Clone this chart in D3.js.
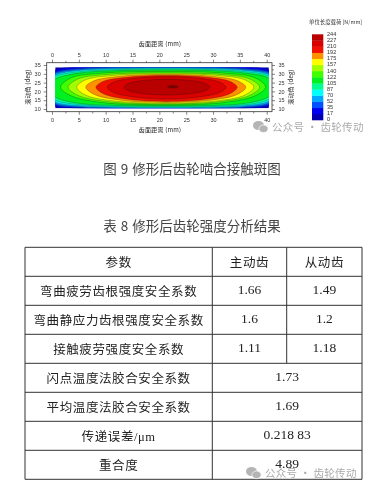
<!DOCTYPE html>
<html>
<head>
<meta charset="utf-8">
<script src="https://cdn.jsdelivr.net/npm/d3@7"></script>
<style>
  html, body { margin: 0; padding: 0; background: #fff; }
  svg { display: block; filter: blur(0.4px); }
</style>
</head>
<body>
<div id="vis"></div>
<script>
// colour bar values and colours, bottom to top
const barLabels = [0, 17, 35, 52, 70, 87, 105, 122, 140, 157, 175, 192, 210, 227, 244];
const barColors = ['#0000b0', '#0000f0', '#0050ff', '#00a8ff', '#00ffff', '#00ff90', '#00f020',
  '#40ff00', '#a0ff00', '#ffff00', '#ff9000', '#f01000', '#d80000', '#b80000'];
const peakColor = '#800000';

const xTicks = [0, 5, 10, 15, 20, 25, 30, 35, 40];
const yTicks = [10, 15, 20, 25, 30, 35];
const xMinor = [2.5, 7.5, 12.5, 17.5, 22.5, 27.5, 32.5, 37.5];
const yMinor = [12.5, 17.5, 22.5, 27.5, 32.5];

// contour outlines: [tooth width mm, roll angle deg]
const contour17 = [[-6, 22.2], [0.6, 32.2], [4, 33.8], [12, 35], [20.7, 35.3], [30, 35], [37, 33.8], [40.4, 32.4], [46.5, 22.2], [40.4, 11.6], [37, 10.3], [30, 9.2], [20.7, 9], [12, 9.2], [4, 10.3], [0.6, 11.4]];
const contour35 = [[-5, 22.2], [0.6, 31], [5, 33], [12, 34], [20.7, 34.3], [30, 34], [36, 33], [40.4, 31.2], [45.5, 22.2], [40.4, 12.6], [36, 10.8], [30, 10], [20.7, 9.8], [12, 10], [5, 10.8], [0.6, 12.3]];
const contour52 = [[-4, 22.2], [0.6, 30.2], [5, 32.4], [12, 33.4], [20.7, 33.6], [30, 33.4], [36, 32.4], [40.4, 30.4], [44.5, 22.2], [40.4, 13.4], [36, 11.3], [30, 10.6], [20.7, 10.5], [12, 10.6], [5, 11.3], [0.6, 13.1]];
const contour70 = [[-3, 22.2], [0.6, 29.3], [5, 31.9], [12, 32.9], [20.7, 33.2], [30, 32.9], [36, 31.9], [40.4, 29.6], [43.5, 22.2], [40.4, 14.4], [36, 11.9], [30, 11], [20.7, 10.7], [12, 11], [5, 11.9], [0.6, 14]];
const contour87 = [[-2, 22.2], [0.6, 28.5], [5, 31.2], [12, 32.4], [20.7, 32.8], [30, 32.4], [36, 31.2], [40.4, 28.8], [42.5, 22.2], [40.4, 15.4], [36, 12.4], [30, 11.4], [20.7, 11.1], [12, 11.4], [5, 12.5], [0.6, 15.1]];
const contour105 = [[-1, 22.2], [0.6, 27], [5, 30.4], [12, 31.8], [20.7, 32.2], [30, 31.8], [36, 30.4], [40.4, 27.5], [41.6, 22.2], [40.4, 17], [36, 13.2], [30, 12], [20.7, 11.7], [12, 12], [5, 13.2], [0.6, 16.8]];
const contour122 = [[1.6, 22.4], [3.5, 27.6], [9, 30.3], [20.7, 31.3], [32.4, 30.3], [37.9, 27.6], [39.8, 22.4], [37.9, 17.6], [32.4, 13.8], [20.7, 12.3], [9, 13.8], [3.5, 17.6]];
const contour140 = [[3, 22.4], [4.8, 27], [10.1, 29.6], [20.9, 30.5], [31.6, 29.6], [36.9, 27], [38.7, 22.4], [36.9, 17.8], [31.6, 14.3], [20.9, 12.8], [10.1, 14.3], [4.8, 17.8]];
const contour157 = [[4.6, 22.4], [6.2, 26.5], [11.2, 29], [21.1, 30], [31, 29], [36, 26.5], [37.6, 22.4], [36, 18], [31, 14.7], [21.1, 13.2], [11.2, 14.7], [6.2, 18]];
const contour175 = [[6.3, 22.4], [7.8, 26], [12.3, 28.5], [21.2, 29.6], [30.1, 28.5], [34.6, 26], [36.1, 22.4], [34.6, 18.4], [30.1, 15.2], [21.2, 13.7], [12.3, 15.2], [7.8, 18.4]];
const contour192 = [[8.2, 22.4], [9.5, 25.6], [13.5, 27.9], [21.4, 29], [29.2, 27.9], [33.2, 25.6], [34.5, 22.4], [33.2, 18.8], [29.2, 15.8], [21.4, 14.3], [13.5, 15.8], [9.5, 18.8]];
const contour210 = [[10.3, 22.4], [11.4, 25.2], [14.7, 27.2], [21.4, 28.4], [28, 27.2], [31.3, 25.2], [32.4, 22.4], [31.3, 19.5], [28, 17.1], [21.4, 15.7], [14.7, 17.1], [11.4, 19.5]];
const contour227 = [[13.4, 22.4], [14.2, 24.4], [16.6, 26], [21.4, 26.9], [26.2, 26], [28.6, 24.4], [29.4, 22.4], [28.6, 20.5], [26.2, 18.9], [21.4, 18], [16.6, 18.9], [14.2, 20.5]];
const contourPeak = [[21.5, 22.6], [22.5, 23.3], [23.5, 22.6], [22.5, 21.9]];

const contours = [contour17, contour35, contour52, contour70, contour87, contour105, contour122,
  contour140, contour157, contour175, contour192, contour210, contour227, contourPeak];
const contourFills = barColors.slice(1).concat([peakColor]);
const dataXExtent = [0.6, 40.4];
const dataYExtent = [10.4, 33.7];

// table text
const tableHead = ['参数', '主动齿', '从动齿'];
const tableRows = [
  ['弯曲疲劳齿根强度安全系数', '1.66', '1.49'],
  ['弯曲静应力齿根强度安全系数', '1.6', '1.2'],
  ['接触疲劳强度安全系数', '1.11', '1.18'],
  ['闪点温度法胶合安全系数', '1.73'],
  ['平均温度法胶合安全系数', '1.69'],
  ['传递误差/μm', '0.218 83'],
  ['重合度', '4.89'],
];

const cjk = '"Noto Sans CJK SC", sans-serif';
const serif = '"Liberation Serif", "Noto Sans CJK SC", serif';

const svg = d3.select('#vis').append('svg')
  .attr('width', 387)
  .attr('height', 501)
  .attr('viewBox', '0 0 387 501');

// contour plot
const frame = {left: 46.7, right: 272, top: 62.7, bottom: 111.7};
const x = d3.scaleLinear().domain([0, 40]).range([52, 266.7]);
const y = d3.scaleLinear().domain([10, 35]).range([109, 65]);

svg.append('clipPath').attr('id', 'plot-clip')
  .append('rect')
  .attr('x', x(dataXExtent[0]))
  .attr('y', y(dataYExtent[1]))
  .attr('width', x(dataXExtent[1]) - x(dataXExtent[0]))
  .attr('height', y(dataYExtent[0]) - y(dataYExtent[1]));

const plot = svg.append('g').attr('clip-path', 'url(#plot-clip)');
plot.append('rect')
  .attr('x', x(dataXExtent[0]))
  .attr('y', y(dataYExtent[1]))
  .attr('width', x(dataXExtent[1]) - x(dataXExtent[0]))
  .attr('height', y(dataYExtent[0]) - y(dataYExtent[1]))
  .attr('fill', barColors[0]);

const outline = d3.line()
  .x(d => x(d[0]))
  .y(d => y(d[1]))
  .curve(d3.curveCatmullRomClosed);

plot.selectAll('path.band')
  .data(contours)
  .enter()
  .append('path')
  .attr('class', 'band')
  .attr('d', outline)
  .attr('fill', (d, i) => contourFills[i])
  .attr('stroke', '#111')
  .attr('stroke-opacity', 0.55)
  .attr('stroke-width', 0.5);

svg.append('rect')
  .attr('x', frame.left)
  .attr('y', frame.top)
  .attr('width', frame.right - frame.left)
  .attr('height', frame.bottom - frame.top)
  .attr('fill', 'none')
  .attr('stroke', '#333')
  .attr('stroke-width', 0.8);

function styleAxis(g) {
  g.select('.domain').remove();
  g.selectAll('line').attr('stroke', '#333').attr('stroke-width', 0.6);
  g.selectAll('text').attr('fill', '#333').style('font', '5.5px "Liberation Sans", sans-serif');
}

function addAxis(axisFn, scale, ticks, minor, transform, padding) {
  svg.append('g').attr('transform', transform)
    .call(axisFn(scale).tickValues(ticks).tickSize(3).tickPadding(padding).tickFormat(d3.format('d')))
    .call(styleAxis);
  svg.append('g').attr('transform', transform)
    .call(axisFn(scale).tickValues(minor).tickSize(1.8).tickFormat(''))
    .call(styleAxis);
}

addAxis(d3.axisTop, x, xTicks, xMinor, `translate(0,${frame.top})`, 2.5);
addAxis(d3.axisBottom, x, xTicks, xMinor, `translate(0,${frame.bottom})`, 3);
addAxis(d3.axisLeft, y, yTicks, yMinor, `translate(${frame.left},0)`, 3);
addAxis(d3.axisRight, y, yTicks, yMinor, `translate(${frame.right},0)`, 3.5);

function smallLabel(text, px, py, rotate) {
  svg.append('text')
    .attr('transform', `translate(${px},${py})` + (rotate ? `rotate(${rotate})` : ''))
    .attr('text-anchor', 'middle')
    .attr('dominant-baseline', 'middle')
    .attr('fill', '#222')
    .attr('letter-spacing', 0.2)
    .style('font', `6px ${cjk}`)
    .text(text);
}
smallLabel('齿面距离 (mm)', 160, 44);
smallLabel('齿面距离 (mm)', 160, 130.5);
smallLabel('滚动角 (deg)', 28, 87, -90);
smallLabel('滚动角 (deg)', 291, 87, -90);

// colour bar
const barY = d3.scaleLinear().domain([0, barColors.length]).range([120, 34.3]);
svg.append('g').selectAll('rect')
  .data(barColors)
  .enter()
  .append('rect')
  .attr('x', 312)
  .attr('y', (d, i) => barY(i + 1))
  .attr('width', 11.3)
  .attr('height', (d, i) => barY(i) - barY(i + 1) + 0.3)
  .attr('fill', d => d);
svg.append('g').selectAll('text')
  .data(barLabels)
  .enter()
  .append('text')
  .attr('x', 327)
  .attr('y', (d, i) => barY(i))
  .attr('dominant-baseline', 'middle')
  .attr('fill', '#333')
  .style('font', '5.6px "Liberation Sans", sans-serif')
  .text(d => d);
svg.append('text')
  .attr('x', 309)
  .attr('y', 23)
  .attr('dominant-baseline', 'middle')
  .attr('fill', '#333')
  .style('font', `5.4px ${cjk}`)
  .text('单位长度载荷 [N/mm]');

// captions
function caption(text, cy) {
  svg.append('text')
    .attr('x', 192)
    .attr('y', cy)
    .attr('text-anchor', 'middle')
    .attr('dominant-baseline', 'middle')
    .attr('fill', '#444')
    .attr('word-spacing', 1)
    .style('font', `13.5px ${cjk}`)
    .text(text);
}
caption('图 9 修形后齿轮啮合接触斑图', 170);
caption('表 8 修形后齿轮强度分析结果', 227.7);

// table
const colEdges = [25, 212.3, 286.7, 362];
const rowY = d3.scaleBand()
  .domain(d3.range(tableRows.length + 1))
  .range([247.3, 479.3]);
const table = svg.append('g');

function cell(text, cx, row) {
  const isNumber = /^[0-9.\s]+$/.test(text);
  table.append('text')
    .attr('x', cx)
    .attr('y', rowY(row) + rowY.bandwidth() / 2 + (isNumber ? 0.5 : 2))
    .attr('text-anchor', 'middle')
    .attr('dominant-baseline', 'middle')
    .attr('fill', '#222')
    .attr('letter-spacing', isNumber ? 0 : 0.6)
    .style('font', isNumber ? `13.5px ${serif}` : `12.5px ${serif}`)
    .text(text);
}

function tableRow(values, row) {
  const first = (colEdges[0] + colEdges[1]) / 2;
  cell(values[0], first, row);
  if (values.length === 3) {
    cell(values[1], (colEdges[1] + colEdges[2]) / 2, row);
    cell(values[2], (colEdges[2] + colEdges[3]) / 2, row);
  } else {
    cell(values[1], (colEdges[1] + colEdges[3]) / 2, row);
  }
}
tableRow(tableHead, 0);
tableRows.forEach((r, i) => tableRow(r, i + 1));

const rule = (x1, y1, x2, y2) => table.append('line')
  .attr('x1', x1).attr('y1', y1).attr('x2', x2).attr('y2', y2)
  .attr('stroke', '#333').attr('stroke-width', 1);
d3.range(tableRows.length + 2).forEach(i => {
  const yy = i === tableRows.length + 1 ? rowY.range()[1] : rowY(i);
  rule(colEdges[0], yy, colEdges[3], yy);
});
rule(colEdges[0], rowY.range()[0], colEdges[0], rowY.range()[1]);
rule(colEdges[1], rowY.range()[0], colEdges[1], rowY.range()[1]);
rule(colEdges[3], rowY.range()[0], colEdges[3], rowY.range()[1]);
rule(colEdges[2], rowY.range()[0], colEdges[2], rowY(4));

// watermarks
function watermark(px, py, size) {
  const g = svg.append('g').attr('transform', `translate(${px},${py})`);
  g.append('ellipse').attr('cx', 5.5).attr('cy', -1.5).attr('rx', 5.5).attr('ry', 4.6).attr('fill', '#b4b4b4');
  g.append('ellipse').attr('cx', 10.5).attr('cy', 1.8).attr('rx', 4.6).attr('ry', 3.8)
    .attr('fill', '#b4b4b4').attr('stroke', '#fff').attr('stroke-width', 0.7);
  g.append('text')
    .attr('x', 19)
    .attr('y', 1)
    .attr('dominant-baseline', 'middle')
    .attr('fill', '#aaa')
    .attr('letter-spacing', 0.3)
    .style('font', `${size}px ${cjk}`)
    .text('公众号 · 齿轮传动');
}
watermark(253, 127, 10.5);
watermark(246, 473, 10.5);
</script>
</body>
</html>
